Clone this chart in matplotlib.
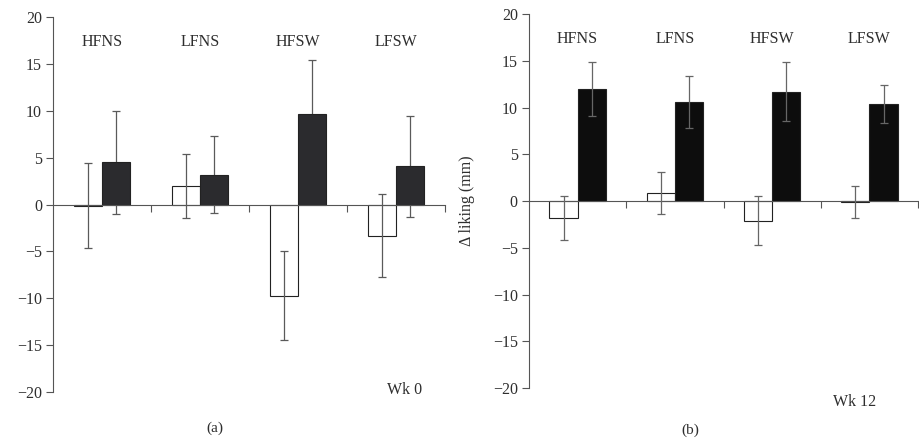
import numpy as np
import matplotlib.pyplot as plt

plt.rcParams['font.family'] = ['Liberation Serif', 'DejaVu Serif']

groups = ['HFNS', 'LFNS', 'HFSW', 'LFSW']

# panel (a), week 0
wk0_white = [-0.1, 2.0, -9.7, -3.3]
wk0_white_err = [4.5, 3.4, 4.7, 4.4]
wk0_black = [4.5, 3.2, 9.7, 4.1]
wk0_black_err = [5.5, 4.1, 5.7, 5.4]

# panel (b), week 12
wk12_white = [-1.8, 0.9, -2.1, -0.1]
wk12_white_err = [2.35, 2.25, 2.6, 1.7]
wk12_black = [12.0, 10.6, 11.7, 10.4]
wk12_black_err = [2.85, 2.75, 3.15, 2.05]

fig = plt.figure(figsize=(9.19, 4.4), dpi=100)
ax_a = fig.add_axes([0.0577, 0.109, 0.4265, 0.852])
ax_b = fig.add_axes([0.5756, 0.118, 0.4234, 0.850])

x = np.arange(len(groups))
w = 0.29
axis_col = '#555555'
text_col = '#2e2e2e'


def draw(ax, white, white_err, black, black_err, black_col, err_col, black_err_z):
    ax.bar(x - w / 2, white, w, color='white', edgecolor='#222222', linewidth=0.8, zorder=2)
    ax.bar(x + w / 2, black, w, color=black_col, edgecolor='#222222', linewidth=0.8, zorder=2)
    ax.errorbar(x - w / 2, white, yerr=white_err, fmt='none', ecolor=err_col,
                elinewidth=0.9, capsize=3, capthick=0.9, zorder=3)
    ax.errorbar(x + w / 2, black, yerr=black_err, fmt='none', ecolor=err_col,
                elinewidth=0.9, capsize=3, capthick=0.9, zorder=black_err_z)
    ax.set_xlim(-0.5, 3.5)
    ax.set_ylim(-20, 20)
    ax.set_yticks(np.arange(-20, 21, 5))
    ax.set_yticklabels(['\u221220', '\u221215', '\u221210', '\u22125', '0', '5', '10', '15', '20'])
    ax.set_xticks([0.5, 1.5, 2.5, 3.5])
    ax.set_xticklabels([])
    ax.spines['top'].set_visible(False)
    ax.spines['right'].set_visible(False)
    ax.spines['bottom'].set_position(('data', 0))
    ax.spines['left'].set_color(axis_col)
    ax.spines['bottom'].set_color(axis_col)
    ax.tick_params(axis='y', direction='out', length=5, color=axis_col,
                   labelcolor=text_col, labelsize=11.5, pad=3)
    ax.tick_params(axis='x', direction='out', length=5, color=axis_col)
    ax.set_ylabel('\u0394 liking (mm)', fontsize=11.5, color=text_col)
    ax.yaxis.set_label_coords(-0.14, 0.5)
    for i, g in enumerate(groups):
        ax.text(x[i], 17.3, g, ha='center', va='center', fontsize=11.5, color=text_col)


draw(ax_a, wk0_white, wk0_white_err, wk0_black, wk0_black_err, '#2b2b2e', '#5a5a5a', 1)
draw(ax_b, wk12_white, wk12_white_err, wk12_black, wk12_black_err, '#0d0d0d', '#666666', 3)

ax_a.text(3.09, -19.8, 'Wk 0', ha='center', va='center', fontsize=11.5, color=text_col)
ax_b.text(2.85, -21.5, 'Wk 12', ha='center', va='center', fontsize=11.5, color=text_col,
          clip_on=False)

fig.text(215 / 919, 1 - 428 / 440, '(a)', ha='center', va='center', fontsize=11, color=text_col)
fig.text(690 / 919, 1 - 430 / 440, '(b)', ha='center', va='center', fontsize=11, color=text_col)

fig.savefig('out.png', dpi=100)
